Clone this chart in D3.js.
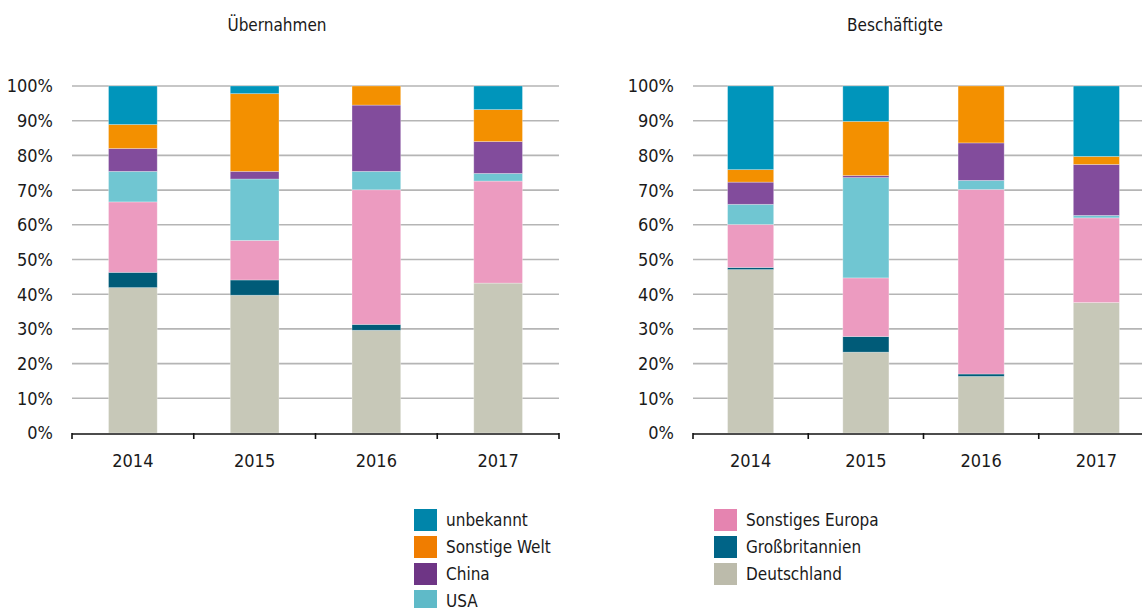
<!DOCTYPE html>
<html>
<head>
<meta charset="utf-8">
<script src="https://cdn.jsdelivr.net/npm/d3@7"></script>
<style>
    body { margin: 0; background: #ffffff; }
    svg { display: block; font-family: "Liberation Sans Narrow", "DejaVu Sans Condensed", "Roboto Condensed", Roboto, sans-serif; }
</style>
</head>
<body>
<svg id="chart" width="1142" height="608"></svg>
<script>
(function () {
    "use strict";

    const years = ["2014", "2015", "2016", "2017"];
    const series = ["Deutschland", "Großbritannien", "Sonstiges Europa", "USA", "China", "Sonstige Welt", "unbekannt"];
    const yTicks = [0, 10, 20, 30, 40, 50, 60, 70, 80, 90, 100];

    // shares in percent, one array per year in the order of `series`
    const uebernahmen = [
        [41.9, 4.4, 20.3, 8.8, 6.6, 6.9, 11.1],
        [39.7, 4.4, 11.4, 17.7, 2.2, 22.4, 2.2],
        [29.6, 1.7, 38.8, 5.3, 19.1, 5.5, 0],
        [43.2, 0, 29.4, 2.2, 9.2, 9.2, 6.8]
    ];
    const beschaeftigte = [
        [47.1, 0.6, 12.4, 5.8, 6.4, 3.6, 24.1],
        [23.3, 4.5, 16.9, 28.9, 0.6, 15.6, 10.2],
        [16.3, 0.7, 53.2, 2.6, 10.8, 16.4, 0],
        [37.6, 0, 24.4, 0.7, 14.7, 2.3, 20.3]
    ];

    const barColors = {
        "Deutschland": "#c7c8b8",
        "Großbritannien": "#005b78",
        "Sonstiges Europa": "#ec9bc0",
        "USA": "#70c6d2",
        "China": "#824c9c",
        "Sonstige Welt": "#f39000",
        "unbekannt": "#0095bb"
    };
    const legendColors = {
        "Deutschland": "#bcbbab",
        "Großbritannien": "#006487",
        "Sonstiges Europa": "#e584b0",
        "USA": "#5fbac8",
        "China": "#6e3585",
        "Sonstige Welt": "#f07d00",
        "unbekannt": "#0085aa"
    };
    const legendColumns = [
        ["unbekannt", "Sonstige Welt", "China", "USA"],
        ["Sonstiges Europa", "Großbritannien", "Deutschland"]
    ];

    const svg = d3.select("#chart");
    const textColor = "#1a1a1a";

    function drawPanel(opts) {
        const x = d3.scaleBand()
            .domain(years)
            .range([opts.x0, opts.x1])
            .paddingInner(0.6)
            .paddingOuter(0.3);
        const y = d3.scaleLinear()
            .domain([0, 100])
            .range([433, 86]);

        const g = svg.append("g");

        g.append("text")
            .attr("x", opts.titleX)
            .attr("y", 31)
            .attr("text-anchor", "middle")
            .attr("fill", textColor)
            .style("font-size", "17px")
            .text(opts.title);

        g.append("g")
            .selectAll("line")
            .data(yTicks.slice(1))
            .join("line")
            .attr("x1", opts.x0)
            .attr("x2", opts.x1)
            .attr("y1", (d) => y(d))
            .attr("y2", (d) => y(d))
            .attr("stroke", "#b5b5b5")
            .attr("stroke-width", 1.6);

        g.append("g")
            .selectAll("text")
            .data(yTicks)
            .join("text")
            .attr("x", opts.labelX)
            .attr("y", (d) => y(d))
            .attr("dy", "0.36em")
            .attr("text-anchor", "end")
            .attr("fill", textColor)
            .style("font-size", "18px")
            .text((d) => d + "%");

        const stacked = d3.stack()
            .keys(d3.range(series.length))
            .value((row, i) => row.values[i])(
                opts.data.map((values, i) => ({ year: years[i], values }))
            );

        g.append("g")
            .selectAll("g")
            .data(stacked)
            .join("g")
            .attr("fill", (s) => barColors[series[s.key]])
            .selectAll("rect")
            .data((s) => s.filter((d) => d[1] - d[0] > 0))
            .join("rect")
            .attr("x", (d) => x(d.data.year))
            .attr("width", x.bandwidth())
            .attr("y", (d) => y(d[1]))
            .attr("height", (d) => y(d[0]) - y(d[1]))
            .attr("stroke", "rgba(255,255,255,0.35)")
            .attr("stroke-width", 0.8);

        const axisLen = opts.x1 - opts.x0;
        const step = axisLen / years.length;
        const axis = g.append("g");
        axis.append("line")
            .attr("x1", opts.x0)
            .attr("x2", opts.x1)
            .attr("y1", 434)
            .attr("y2", 434)
            .attr("stroke", "#111")
            .attr("stroke-width", 1.6);
        axis.selectAll("line.tick")
            .data(d3.range(years.length + 1))
            .join("line")
            .attr("class", "tick")
            .attr("x1", (i) => opts.x0 + i * step)
            .attr("x2", (i) => opts.x0 + i * step)
            .attr("y1", 433)
            .attr("y2", 439)
            .attr("stroke", "#111")
            .attr("stroke-width", 1.6);
        axis.selectAll("text")
            .data(years)
            .join("text")
            .attr("x", (d) => x(d) + x.bandwidth() / 2)
            .attr("y", 467)
            .attr("text-anchor", "middle")
            .attr("fill", textColor)
            .style("font-size", "18px")
            .text((d) => d);
    }

    drawPanel({ title: "Übernahmen", titleX: 277, x0: 72, x1: 559, labelX: 53, data: uebernahmen });
    drawPanel({ title: "Beschäftigte", titleX: 895, x0: 693, x1: 1154, labelX: 674, data: beschaeftigte });

    const legend = svg.append("g");
    legendColumns.forEach((col, ci) => {
        const cx = ci === 0 ? 414 : 714;
        const rows = legend.append("g")
            .selectAll("g")
            .data(col)
            .join("g")
            .attr("transform", (d, i) => `translate(${cx},${509 + i * 27})`);
        rows.append("rect")
            .attr("width", 23)
            .attr("height", 22)
            .attr("fill", (d) => legendColors[d]);
        rows.append("text")
            .attr("x", 32)
            .attr("y", 11)
            .attr("dy", "0.33em")
            .attr("fill", textColor)
            .style("font-size", "17px")
            .text((d) => d);
    });
})();
</script>
</body>
</html>
